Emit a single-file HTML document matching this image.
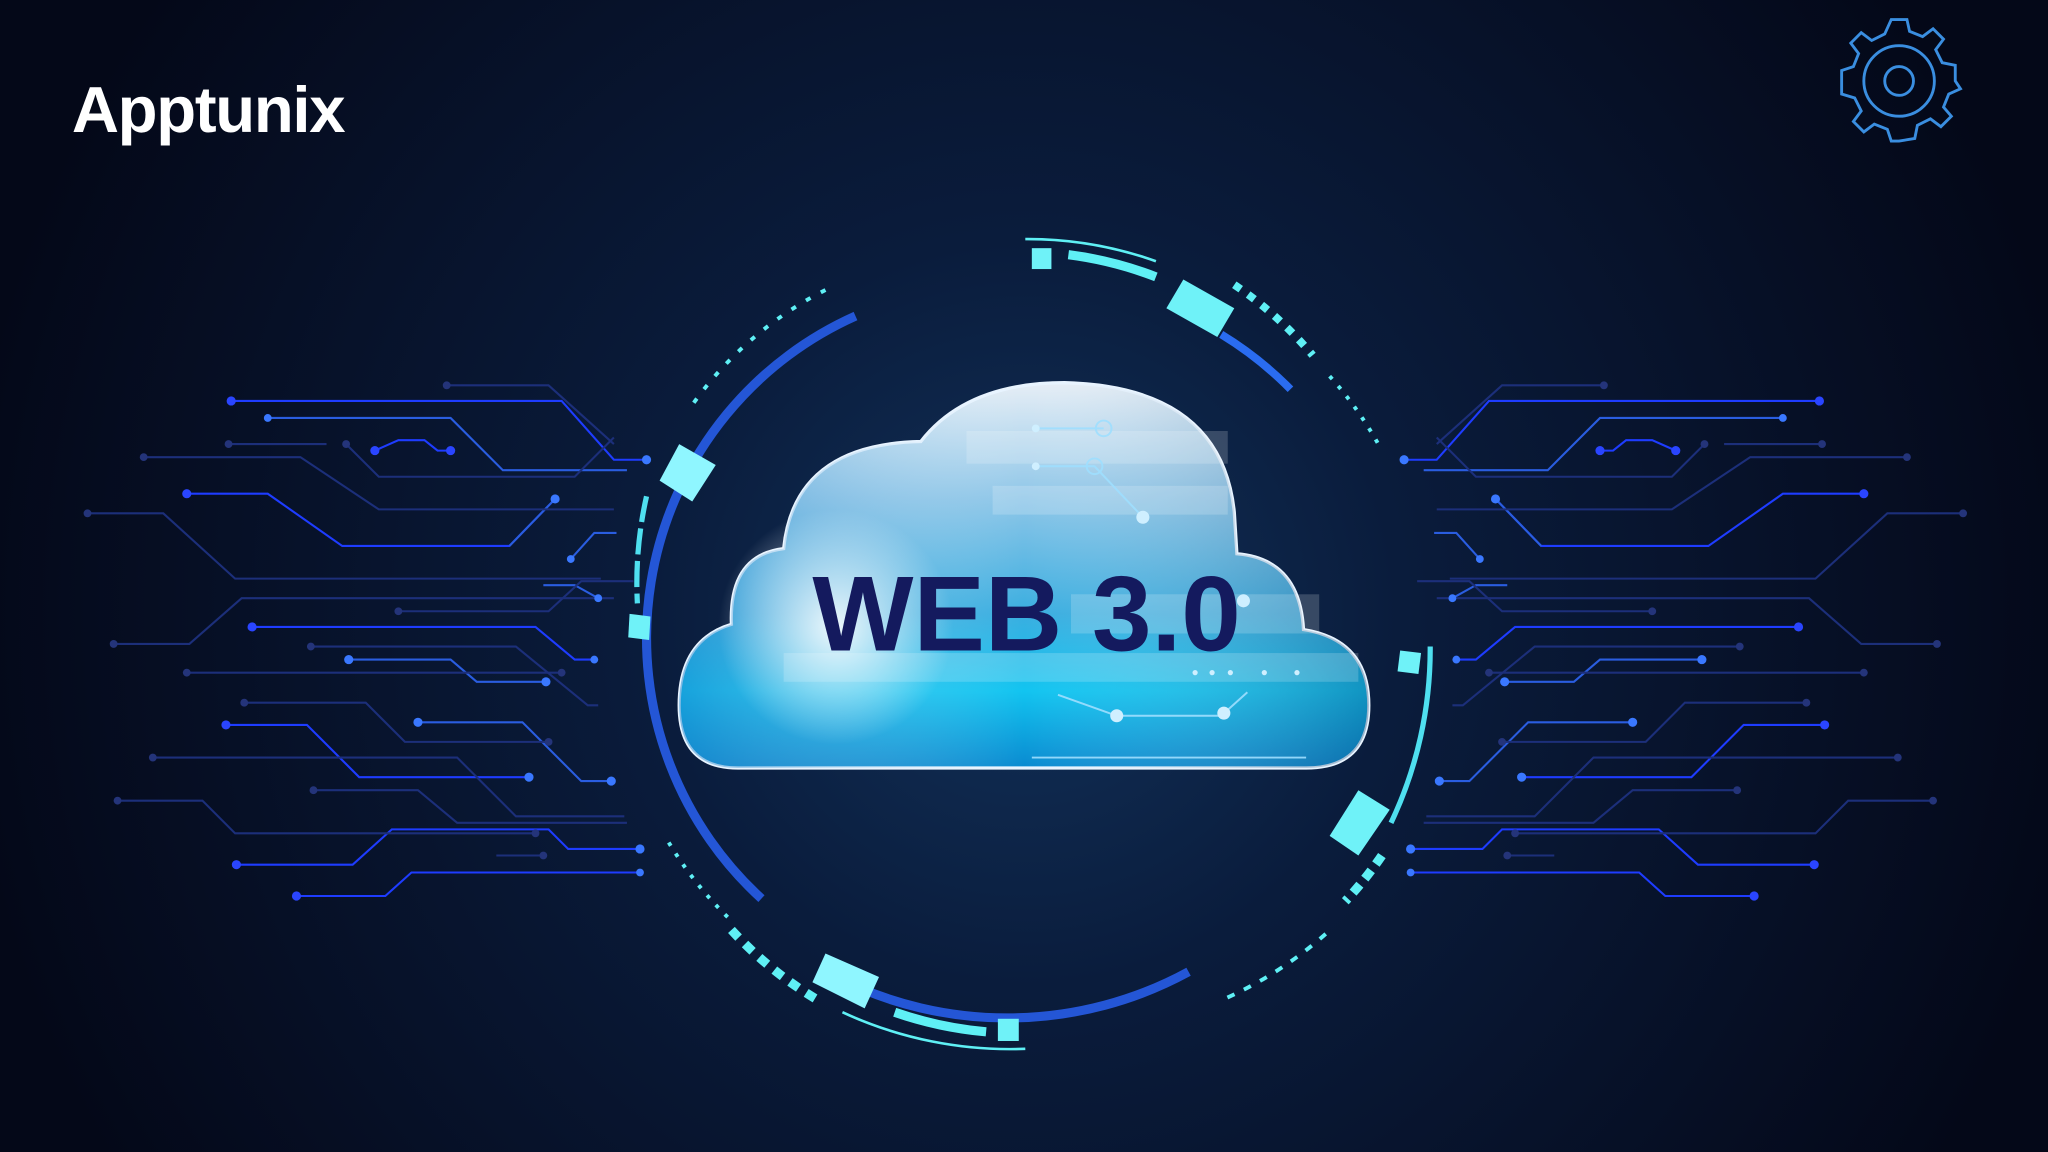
<!DOCTYPE html>
<html><head><meta charset="utf-8"><style>
html,body{margin:0;padding:0;background:#050a1f;}
svg{display:block;}
</style></head><body>
<svg width="2048" height="1152" viewBox="0 0 1568 882" xmlns="http://www.w3.org/2000/svg">
<defs>
<radialGradient id="bg" cx="785" cy="470" r="820" gradientUnits="userSpaceOnUse">
<stop offset="0" stop-color="#12325a"/><stop offset="0.35" stop-color="#0a1c3c"/><stop offset="1" stop-color="#040818"/>
</radialGradient>
<linearGradient id="cl" x1="0" y1="0" x2="0" y2="1">
<stop offset="0" stop-color="#e6eef6"/><stop offset="0.3" stop-color="#8ec6e8"/><stop offset="0.6" stop-color="#3aaee0"/><stop offset="0.8" stop-color="#12c4f0"/><stop offset="1" stop-color="#0a8ad0"/>
</linearGradient>
<linearGradient id="cl2" x1="0" y1="0" x2="1" y2="0">
<stop offset="0" stop-color="#1a80c8" stop-opacity="0.5"/><stop offset="0.5" stop-color="#ffffff" stop-opacity="0"/><stop offset="1" stop-color="#0a3a6a" stop-opacity="0.35"/>
</linearGradient>
<radialGradient id="glow" cx="640" cy="480" r="90" gradientUnits="userSpaceOnUse">
<stop offset="0" stop-color="#ffffff" stop-opacity="0.9"/><stop offset="1" stop-color="#ffffff" stop-opacity="0"/>
</radialGradient>
<g id="circ" fill="none" stroke-width="1.6">
<g stroke="#1e3cff"><polyline points="177,307 430,307 470,352 495,352"/><polyline points="143,378 205,378 262,418 390,418 425,382"/><polyline points="193,480 410,480 440,505 455,505"/><polyline points="173,555 235,555 275,595 405,595"/><polyline points="181,662 270,662 300,635 420,635 435,650 490,650"/><polyline points="227,686 295,686 315,668 490,668"/><polyline points="287,345 305,337 325,337 335,345 345,345"/></g>
<g stroke="#2a5de0"><polyline points="267,505 345,505 365,522 418,522"/><polyline points="320,553 400,553 445,598 468,598"/><polyline points="205,320 345,320 385,360 480,360"/><polyline points="425,382 390,418"/><polyline points="437,428 455,408 472,408"/><polyline points="416,448 440,448 458,458"/></g>
<g stroke="#1c2f7a"><polyline points="110,350 230,350 290,390 470,390"/><polyline points="67,393 125,393 180,443 460,443"/><polyline points="87,493 145,493 185,458 470,458"/><polyline points="143,515 430,515"/><polyline points="187,538 280,538 310,568 420,568"/><polyline points="117,580 350,580 395,625 478,625"/><polyline points="90,613 155,613 180,638 410,638"/><polyline points="342,295 420,295 470,340"/><polyline points="265,340 290,365 440,365 470,335"/><polyline points="238,495 395,495 450,540 458,540"/><polyline points="305,468 420,468 445,445 485,445"/><polyline points="240,605 320,605 350,630 480,630"/><polyline points="175,340 250,340"/><polyline points="380,655 416,655"/></g>
<g fill="#2a45ff" stroke="none"><circle cx="177" cy="307" r="3.5"/><circle cx="143" cy="378" r="3.5"/><circle cx="193" cy="480" r="3.5"/><circle cx="173" cy="555" r="3.5"/><circle cx="181" cy="662" r="3.5"/><circle cx="227" cy="686" r="3.5"/><circle cx="287" cy="345" r="3.5"/><circle cx="345" cy="345" r="3.5"/></g>
<g fill="#3a78ff" stroke="none"><circle cx="267" cy="505" r="3.5"/><circle cx="320" cy="553" r="3.5"/><circle cx="205" cy="320" r="3"/><circle cx="425" cy="382" r="3.5"/><circle cx="405" cy="595" r="3.5"/><circle cx="418" cy="522" r="3.5"/><circle cx="468" cy="598" r="3.5"/><circle cx="495" cy="352" r="3.5"/><circle cx="490" cy="650" r="3.5"/><circle cx="490" cy="668" r="3"/><circle cx="455" cy="505" r="3"/><circle cx="437" cy="428" r="3"/><circle cx="458" cy="458" r="3"/></g>
<g fill="#24347a" stroke="none"><circle cx="110" cy="350" r="3"/><circle cx="67" cy="393" r="3"/><circle cx="87" cy="493" r="3"/><circle cx="143" cy="515" r="3"/><circle cx="187" cy="538" r="3"/><circle cx="117" cy="580" r="3"/><circle cx="90" cy="613" r="3"/><circle cx="342" cy="295" r="3"/><circle cx="265" cy="340" r="3"/><circle cx="238" cy="495" r="3"/><circle cx="305" cy="468" r="3"/><circle cx="240" cy="605" r="3"/><circle cx="175" cy="340" r="3"/><circle cx="416" cy="655" r="3"/><circle cx="430" cy="515" r="3"/><circle cx="420" cy="568" r="3"/><circle cx="410" cy="638" r="3"/></g>
</g>
</defs>
<rect width="1568" height="882" fill="url(#bg)"/>
<use href="#circ"/>
<use href="#circ" transform="translate(1570,0) scale(-1,1)"/>
<!-- ring -->
<g fill="none">
<path d="M655,242 A270,270 0 0 0 583,688" stroke="#2456d6" stroke-width="7"/>
<path d="M640,748 A290,290 0 0 0 910,744" stroke="#2456d6" stroke-width="7"/>
<path d="M935,256 A275,275 0 0 1 988,298" stroke="#2a6cf0" stroke-width="6"/>
<path d="M1095,495 A310,310 0 0 1 1065,630" stroke="#4fe0f0" stroke-width="4"/>
<path d="M495,380 A300,300 0 0 0 488,462" stroke="#4fe0f0" stroke-width="4" stroke-dasharray="20 5"/>
<path d="M785,183 A292,292 0 0 1 885,200" stroke="#5ff0f5" stroke-width="2"/>
<path d="M818,195 A282,282 0 0 1 885,212" stroke="#5ff0f5" stroke-width="7"/>
<path d="M645,775 A305,305 0 0 0 785,803" stroke="#5ff0f5" stroke-width="2"/>
<path d="M685,775 A295,295 0 0 0 755,790" stroke="#5ff0f5" stroke-width="7"/>
<path d="M632,222 A280,280 0 0 0 530,310" stroke="#5ff0f5" stroke-width="3" stroke-dasharray="4 9"/>
<path d="M1018,288 A290,290 0 0 1 1058,345" stroke="#5ff0f5" stroke-width="3" stroke-dasharray="3 7"/>
<path d="M512,645 A290,290 0 0 0 560,705" stroke="#5ff0f5" stroke-width="3" stroke-dasharray="3 7"/>
<path d="M1015,715 A300,300 0 0 1 937,765" stroke="#5ff0f5" stroke-width="3" stroke-dasharray="6 8"/>
<path d="M945,218 A290,290 0 0 1 1005,272" stroke="#5ff0f5" stroke-width="6" stroke-dasharray="6 7"/>
<path d="M560,712 A290,290 0 0 0 625,765" stroke="#5ff0f5" stroke-width="7" stroke-dasharray="8 7"/>
<path d="M1058,655 A290,290 0 0 1 1030,690" stroke="#5ff0f5" stroke-width="7" stroke-dasharray="8 6"/>
</g>
<g fill="#6ff2f8">
<rect x="790" y="190" width="15" height="16"/>
<polygon points="906,214 945,236 932,258 893,236"/>
<polygon points="520,340 548,356 530,384 505,368" fill="#8ff6ff"/>
<polygon points="482,470 498,472 497,490 481,488"/>
<polygon points="1072,498 1088,500 1086,516 1070,514"/>
<polygon points="1040,605 1064,620 1040,655 1018,640"/>
<polygon points="632,730 673,748 662,772 622,752" fill="#8ff6ff"/>
<rect x="764" y="780" width="16" height="17"/>
</g>
<!-- cloud -->
<path d="M565,588 Q520,588 520,540 Q520,490 560,478 Q558,425 600,420 Q608,340 705,338 Q740,293 815,293 Q935,296 945,392 L947,424 Q995,428 998,482 Q1048,490 1048,540 Q1048,588 1000,588 Z" fill="url(#cl)" stroke="#e8f4ff" stroke-width="2.5"/>
<path d="M565,588 Q520,588 520,540 Q520,490 560,478 Q558,425 600,420 Q608,340 705,338 Q740,293 815,293 Q935,296 945,392 L947,424 Q995,428 998,482 Q1048,490 1048,540 Q1048,588 1000,588 Z" fill="url(#cl2)"/>
<g fill="#ffffff" opacity="0.18"><rect x="740" y="330" width="200" height="25"/><rect x="760" y="372" width="180" height="22"/><rect x="820" y="455" width="190" height="30"/><rect x="600" y="500" width="440" height="22"/></g>
<circle cx="640" cy="480" r="90" fill="url(#glow)"/>
<g stroke="#9fdfff" stroke-width="1.5" fill="none" opacity="0.9">
<polyline points="793,328 845,328"/><circle cx="845" cy="328" r="6"/><polyline points="793,357 838,357 875,396"/><circle cx="838" cy="357" r="6"/>
<polyline points="810,532 855,548 935,548 955,530"/><polyline points="790,580 1000,580"/>
</g>
<g fill="#cfefff"><circle cx="793" cy="328" r="3"/><circle cx="793" cy="357" r="3"/><circle cx="875" cy="396" r="5"/><circle cx="855" cy="548" r="5"/><circle cx="937" cy="546" r="5"/><circle cx="952" cy="460" r="5"/><circle cx="915" cy="515" r="2"/><circle cx="928" cy="515" r="2"/><circle cx="942" cy="515" r="2"/><circle cx="968" cy="515" r="2"/><circle cx="993" cy="515" r="2"/></g>
<text x="786" y="498" text-anchor="middle" font-family="Liberation Sans, sans-serif" font-weight="700" font-size="82" fill="#141a5e">WEB 3.0</text>
<!-- logo -->
<text x="55" y="101" font-family="Liberation Sans, sans-serif" font-weight="700" font-size="50" fill="#ffffff" letter-spacing="-1">Apptunix</text>
<!-- gear -->
<g transform="translate(1454,62)" fill="none" stroke="#3a8ee0" stroke-width="2.2">
<circle r="11"/><circle r="27"/>
<path d="M-6,-47 L6,-47 L8,-38 L18,-34 L26,-40 L34,-32 L28,-24 L33,-14 L43,-12 L43,0 L47,6 L38,10 L34,20 L40,27 L32,35 L24,29 L14,34 L12,44 L0,46 L-6,46 L-9,37 L-19,33 L-27,39 L-35,31 L-29,23 L-34,13 L-44,10 L-44,-2 L-44,-8 L-35,-11 L-31,-21 L-37,-29 L-29,-37 L-21,-31 L-11,-36 Z"/>
</g>
</svg>
</body></html>
